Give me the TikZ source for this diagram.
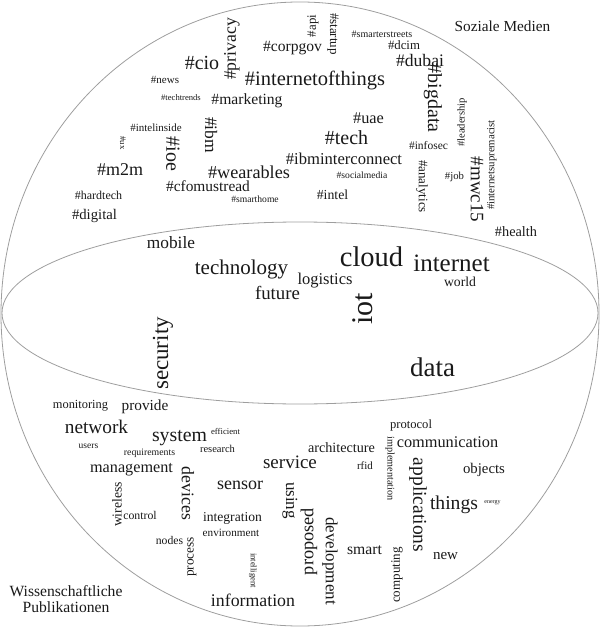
\documentclass[tikz,border=0pt]{standalone}
\usepackage{fontspec}
\setmainfont{Liberation Serif}
\newcommand\fsz[1]{\fontsize{#1}{#1}\selectfont}
\tikzset{
  wd/.style={inner sep=0pt, outer sep=0pt, text=black!90},
  rim/.style={draw=black!38, line width=0.8pt},
  up/.style={rotate=90},
  dn/.style={rotate=-90}
}
\begin{document}
\begin{tikzpicture}[x=1pt,y=-1pt]
\useasboundingbox (0,0) rectangle (600,628);
\draw[rim] (300,314) ellipse [x radius=299, y radius=312];
\draw[rim] (300,313) ellipse [x radius=298, y radius=91];

% labels
\node[wd, font=\fsz{15.3}] (soz) at (502.5,26) {Soziale Medien};
\node[wd, font=\fsz{15.6}, align=center] (wiss) at (66,599) {Wissenschaftliche\\[1pt]Publikationen};

% Soziale Medien
\node[wd, font=\fsz{20}] (h1) at (202,63) {\#cio};
\node[wd, font=\fsz{17.7}, up] (h2) at (232,49) {\#privacy};
\node[wd, font=\fsz{15.6}] (h3) at (292.5,48) {\#corpgov};
\node[wd, font=\fsz{12.8}, up] (h4) at (313,26) {\#api};
\node[wd, font=\fsz{13}, dn] (h5) at (333,34) {\#startup};
\node[wd, font=\fsz{10}] (h6) at (382,34) {\#smarterstreets};
\node[wd, font=\fsz{12.8}] (h7) at (404,45) {\#dcim};
\node[wd, font=\fsz{17.6}] (h8) at (420,60) {\#dubai};
\node[wd, font=\fsz{20}, dn] (h9) at (433,98) {\#bigdata};
\node[wd, font=\fsz{20.5}] (h10) at (315,80) {\#internetofthings};
\node[wd, font=\fsz{11}] (h11) at (165,80) {\#news};
\node[wd, font=\fsz{8.6}] (h12) at (181,98) {\#techtrends};
\node[wd, font=\fsz{15.6}] (h13) at (247,101) {\#marketing};
\node[wd, font=\fsz{11}] (h14) at (156,128) {\#intelinside};
\node[wd, font=\fsz{8.7}, dn] (h15) at (123,143) {\#ux};
\node[wd, font=\fsz{17.5}, dn] (h16) at (211,135) {\#ibm};
\node[wd, font=\fsz{20}, dn] (h17) at (173,154) {\#ioe};
\node[wd, font=\fsz{18}] (h18) at (120,170) {\#m2m};
\node[wd, font=\fsz{18.2}] (h19) at (249,172) {\#wearables};
\node[wd, font=\fsz{15.4}] (h20) at (208,186) {\#cfomustread};
\node[wd, font=\fsz{9.6}] (h21) at (255,199) {\#smarthome};
\node[wd, font=\fsz{12}] (h22) at (98.5,195) {\#hardtech};
\node[wd, font=\fsz{14.7}] (h23) at (94.5,216) {\#digital};
\node[wd, font=\fsz{16.3}] (h24) at (368.5,118) {\#uae};
\node[wd, font=\fsz{20}] (h25) at (346.5,138) {\#tech};
\node[wd, font=\fsz{16.6}] (h26) at (344,159) {\#ibminterconnect};
\node[wd, font=\fsz{9.6}] (h27) at (362,175) {\#socialmedia};
\node[wd, font=\fsz{13.8}] (h28) at (332.5,195) {\#intel};
\node[wd, font=\fsz{11.5}] (h29) at (428.5,146) {\#infosec};
\node[wd, font=\fsz{10.6}, up] (h30) at (462,122.5) {\#leadership};
\node[wd, font=\fsz{13}, dn] (h31) at (422,186.5) {\#analytics};
\node[wd, font=\fsz{10.7}] (h32) at (454.5,177) {\#job};
\node[wd, font=\fsz{19}, dn] (h33) at (477,189.5) {\#mwc15};
\node[wd, font=\fsz{10.8}, up] (h34) at (492,165) {\#internetsupremacist};
\node[wd, font=\fsz{14.3}] (h35) at (516,232) {\#health};

% Mitte
\node[wd, font=\fsz{17.3}] (m1) at (171,243) {mobile};
\node[wd, font=\fsz{21}] (m2) at (241.5,269) {technology};
\node[wd, font=\fsz{18.8}] (m3) at (277.5,293) {future};
\node[wd, font=\fsz{16.5}] (m4) at (325,281) {logistics};
\node[wd, font=\fsz{28.5}] (m5) at (371.5,257) {cloud};
\node[wd, font=\fsz{25}] (m6) at (451.5,263) {internet};
\node[wd, font=\fsz{13.7}] (m7) at (460,282) {world};
\node[wd, font=\fsz{30}, up] (m8) at (363,309) {iot};
\node[wd, font=\fsz{23}, up] (m9) at (163,353.5) {security};
\node[wd, font=\fsz{27}] (m10) at (432.5,367) {data};

% Wissenschaftliche Publikationen
\node[wd, font=\fsz{12.4}] (p1) at (80.5,406) {monitoring};
\node[wd, font=\fsz{15.3}] (p2) at (145,407) {provide};
\node[wd, font=\fsz{19.3}] (p3) at (96.5,427) {network};
\node[wd, font=\fsz{19.8}] (p4) at (179.5,438) {system};
\node[wd, font=\fsz{8.7}] (p5) at (225.5,431) {efficient};
\node[wd, font=\fsz{9.5}] (p6) at (88.5,446) {users};
\node[wd, font=\fsz{9.8}] (p7) at (149.5,453) {requirements};
\node[wd, font=\fsz{10.5}] (p8) at (217.5,449) {research};
\node[wd, font=\fsz{16.2}] (p9) at (131.5,470) {management};
\node[wd, font=\fsz{18}] (p10) at (240,485) {sensor};
\node[wd, font=\fsz{19}] (p11) at (290,462) {service};
\node[wd, font=\fsz{14.2}] (p12) at (341.5,448) {architecture};
\node[wd, font=\fsz{11}] (p13) at (365,466) {rfid};
\node[wd, font=\fsz{12.6}] (p14) at (411,425) {protocol};
\node[wd, font=\fsz{16.3}] (p15) at (447.5,442) {communication};
\node[wd, font=\fsz{14.8}] (p16) at (484,470) {objects};
\node[wd, font=\fsz{19.6}] (p17) at (454,505) {things};
\node[wd, font=\fsz{6}] (p18) at (492.5,503) {energy};
\node[wd, font=\fsz{15.7}] (p19) at (364.5,550) {smart};
\node[wd, font=\fsz{15}] (p20) at (445.5,556) {new};
\node[wd, font=\fsz{11.8}] (p21) at (140,515) {control};
\node[wd, font=\fsz{13.6}] (p22) at (232.5,518) {integration};
\node[wd, font=\fsz{11.2}] (p23) at (231,533) {environment};
\node[wd, font=\fsz{11.7}] (p24) at (169.5,540) {nodes};
\node[wd, font=\fsz{17.8}] (p25) at (253,600) {information};
\node[wd, font=\fsz{17.7}, dn] (p26) at (188,493.5) {devices};
\node[wd, font=\fsz{13.3}, up] (p27) at (192,557) {process};
\node[wd, font=\fsz{13.7}, up] (p28) at (117,504.5) {wireless};
\node[wd, font=\fsz{17}, dn] (p29) at (290,500.5) {using};
\node[wd, font=\fsz{18.3}, up] (p30) at (309,541.5) {proposed};
\node[wd, font=\fsz{17}, dn] (p31) at (330,561) {development};
\node[wd, font=\fsz{19.5}, dn] (p32) at (418,505) {applications};
\node[wd, font=\fsz{10.2}, dn] (p33) at (390,468.5) {implementation};
\node[wd, font=\fsz{13}, up] (p34) at (397,575) {computing};
\node[wd, font=\fsz{8.6}, dn] (p35) at (253,570.5) {intelligent};
\end{tikzpicture}
\end{document}
